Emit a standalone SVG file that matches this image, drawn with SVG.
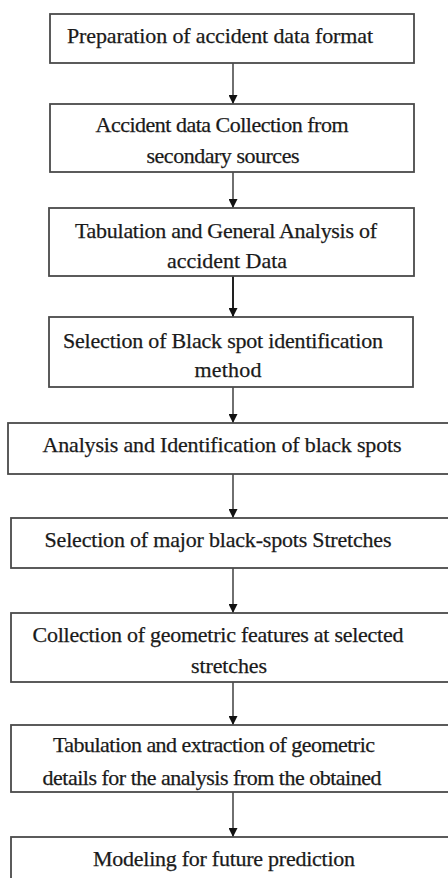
<svg xmlns="http://www.w3.org/2000/svg" width="448" height="878" viewBox="0 0 448 878">
<style>
.box{fill:#fff;stroke:#4a4a4a;stroke-width:1.8}
.lbl{font-family:"Liberation Serif","Times New Roman",serif;font-size:22px;fill:#1a1a1a;stroke:#1a1a1a;stroke-width:0.25;text-anchor:middle}
.conn{stroke:#222;stroke-width:1.3;fill:none}
</style>
<defs>
<marker id="ahd" markerUnits="userSpaceOnUse" markerWidth="9" markerHeight="9" viewBox="0 0 10 10" refX="10" refY="5" orient="auto">
<path d="M0,0 L10,5 L0,10 Z" fill="#111"/>
</marker>
</defs>
<rect width="448" height="878" fill="#fff"/>
<g id="connectors">
<line class="conn" x1="233" y1="63" x2="233" y2="104" marker-end="url(#ahd)"/>
<line class="conn" x1="233" y1="172" x2="233" y2="208" marker-end="url(#ahd)"/>
<line class="conn" x1="233" y1="276" x2="233" y2="317" marker-end="url(#ahd)" style="stroke-width:2"/>
<line class="conn" x1="233" y1="387" x2="233" y2="423" marker-end="url(#ahd)"/>
<line class="conn" x1="233" y1="474" x2="233" y2="518" marker-end="url(#ahd)"/>
<line class="conn" x1="233" y1="568" x2="233" y2="613" marker-end="url(#ahd)"/>
<line class="conn" x1="233" y1="682" x2="233" y2="725" marker-end="url(#ahd)"/>
<line class="conn" x1="233" y1="792" x2="233" y2="837" marker-end="url(#ahd)"/>
</g>
<g id="n1">
<rect class="box" x="50" y="14" width="364" height="49"/>
<text class="lbl" x="220" y="43" textLength="306" font-family="Liberation Serif, serif">Preparation of accident data format</text>
</g>
<g id="n2">
<rect class="box" x="50" y="104" width="364" height="68"/>
<text class="lbl" x="222" y="132" textLength="253">Accident data Collection from</text>
<text class="lbl" x="223" y="163" textLength="153">secondary sources</text>
</g>
<g id="n3">
<rect class="box" x="49" y="208" width="365" height="68"/>
<text class="lbl" x="226" y="238" textLength="302">Tabulation and General Analysis of</text>
<text class="lbl" x="227" y="268" textLength="120">accident Data</text>
</g>
<g id="n4">
<rect class="box" x="49" y="317" width="364" height="70"/>
<text class="lbl" x="223" y="348" textLength="320">Selection of Black spot identification</text>
<text class="lbl" x="228" y="377" textLength="67">method</text>
</g>
<g id="n5">
<rect class="box" x="8" y="423" width="460" height="51"/>
<text class="lbl" x="222" y="452" textLength="359">Analysis and Identification of black spots</text>
</g>
<g id="n6">
<rect class="box" x="11" y="518" width="460" height="50"/>
<text class="lbl" x="218" y="547" textLength="347">Selection of major black-spots Stretches</text>
</g>
<g id="n7">
<rect class="box" x="11" y="613" width="460" height="69"/>
<text class="lbl" x="218" y="642" textLength="371">Collection of geometric features at selected</text>
<text class="lbl" x="229" y="673" textLength="76">stretches</text>
</g>
<g id="n8">
<rect class="box" x="11" y="725" width="460" height="67"/>
<text class="lbl" x="214" y="752" textLength="322">Tabulation and extraction of geometric</text>
<text class="lbl" x="212" y="785" textLength="339">details for the analysis from the obtained</text>
</g>
<g id="n9">
<rect class="box" x="11" y="837" width="460" height="60"/>
<text class="lbl" x="224" y="866" textLength="262">Modeling for future prediction</text>
</g>
</svg>
